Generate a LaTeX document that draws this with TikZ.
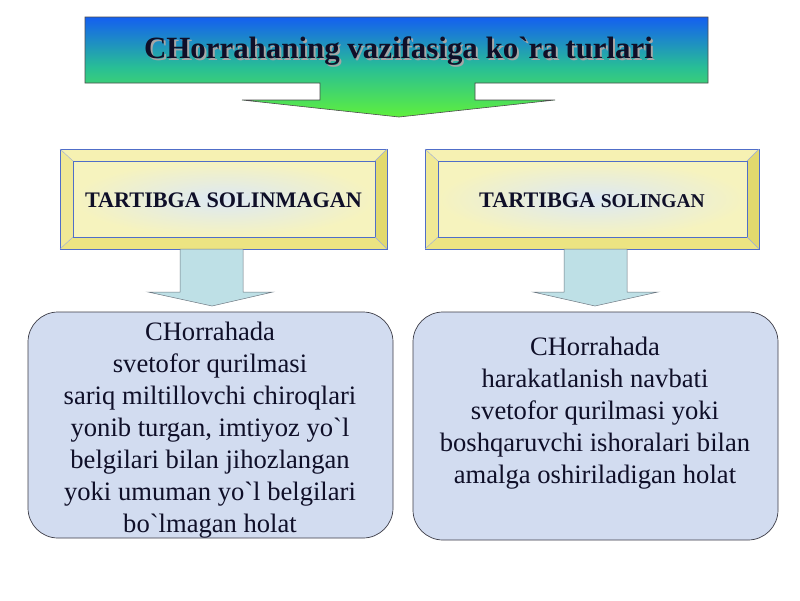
\documentclass[tikz,border=0pt]{standalone}
\usepackage{fontspec}
\setmainfont{Liberation Serif}
\newfontfamily\plainserif{Liberation Serif}
\definecolor{titleblue}{RGB}{20,95,240}
\definecolor{titlemid}{RGB}{40,190,150}
\definecolor{titlegreen}{RGB}{95,240,60}
\definecolor{bevtop}{RGB}{246,241,178}
\definecolor{bevleft}{RGB}{240,233,150}
\definecolor{bevright}{RGB}{226,217,110}
\definecolor{bevbottom}{RGB}{236,228,130}
\definecolor{bevinnerc}{RGB}{220,232,245}
\definecolor{bevinnero}{RGB}{246,243,190}
\definecolor{bevline}{RGB}{80,110,200}
\definecolor{arrowfill}{RGB}{190,224,230}
\definecolor{arrowline}{RGB}{110,120,130}
\definecolor{boxfill}{RGB}{210,220,240}
\definecolor{boxline}{RGB}{60,60,70}
\definecolor{inktext}{RGB}{15,15,40}
\newcommand\mybevel[4]{%
  \fill[bevtop] (#1,#2) -- (#3,#2) -- (#3-12,#2+12) -- (#1+13,#2+12) -- cycle;
  \fill[bevleft] (#1,#2) -- (#1+13,#2+12) -- (#1+13,#4-12) -- (#1,#4) -- cycle;
  \fill[bevright] (#3,#2) -- (#3-12,#2+12) -- (#3-12,#4-12) -- (#3,#4) -- cycle;
  \fill[bevbottom] (#1,#4) -- (#1+13,#4-12) -- (#3-12,#4-12) -- (#3,#4) -- cycle;
  \shade[inner color=bevinnerc, outer color=bevinnero] (#1+13,#2+12) rectangle (#3-12,#4-12);
  \draw[bevline, line width=0.5pt] (#1,#2) rectangle (#3,#4);
  \draw[bevline, line width=0.5pt] (#1+13,#2+12) rectangle (#3-12,#4-12);
  \draw[bevline!60, line width=0.4pt] (#1,#2) -- (#1+13,#2+12) (#3,#2) -- (#3-12,#2+12)
     (#1,#4) -- (#1+13,#4-12) (#3,#4) -- (#3-12,#4-12);
}
\newcommand\shadowed[1]{{\color{black!35}\rlap{\kern2pt\raisebox{-2pt}{#1}}}#1}
\begin{document}
\begin{tikzpicture}[x=1pt,y=-1pt,
  titletext/.style={font=\plainserif\fontsize{30.9}{36}\selectfont\bfseries, text=inktext, inner sep=0pt},
  headtext/.style={font=\plainserif\fontsize{22.2}{26}\selectfont\bfseries, text=inktext, inner sep=0pt},
  bodybox/.style={draw=boxline, fill=boxfill, line width=0.7pt, rounded corners=30pt},
  bodytext/.style={font=\plainserif\fontsize{26.6}{32}\selectfont, text=inktext, align=center, inner sep=0pt},
  blockarrow/.style={fill=arrowfill, draw=arrowline, line width=0.5pt},
  titlearrow/.style={draw=black!70, line width=0.6pt, top color=titleblue, bottom color=titlegreen, middle color=titlemid}]
\useasboundingbox (0,0) rectangle (800,600);
\fill[white] (0,0) rectangle (800,600);

% title block arrow
\shade[titlearrow] (85,17) -- (708,17) -- (708,83) -- (475,83) -- (475,100) -- (555,100)
  -- (399,117) -- (242,100) -- (320,100) -- (320,83) -- (85,83) -- cycle;
\node[titletext] (title) at (398.5,52.5) {\shadowed{CHorrahaning vazifasiga ko`ra turlari}};

% bevel boxes
\mybevel{60}{149}{387}{249}
\mybevel{425}{149}{759}{249}
\node[headtext] (lhead) at (223.5,200) {TARTIBGA SOLINMAGAN};
\node[headtext] (rhead) at (592,200) {TARTIBGA {\fontsize{19.5}{24}\selectfont SOLINGAN}};

% block arrows
\draw[blockarrow] (180,249) -- (243,249) -- (243,292) -- (273,292) -- (212,306)
  -- (148,292) -- (180,292) -- cycle;
\draw[blockarrow] (564,249) -- (627,249) -- (627,292) -- (658,292) -- (595,306)
  -- (533,292) -- (564,292) -- cycle;

% bottom boxes
\node[bodybox, minimum width=365pt, minimum height=226pt] (lbox) at (210.5,425) {};
\node[bodybox, minimum width=365pt, minimum height=228pt] (rbox) at (595.5,426) {};
\node[bodytext] (ltext) at (210,430) {CHorrahada\\svetofor qurilmasi\\sariq miltillovchi chiroqlari\\yonib turgan, imtiyoz yo`l\\belgilari bilan jihozlangan\\yoki umuman yo`l belgilari\\bo`lmagan holat};
\node[bodytext] (rtext) at (595,413) {CHorrahada\\harakatlanish navbati\\svetofor qurilmasi yoki\\boshqaruvchi ishoralari bilan\\amalga oshiriladigan holat};
\end{tikzpicture}
\end{document}
